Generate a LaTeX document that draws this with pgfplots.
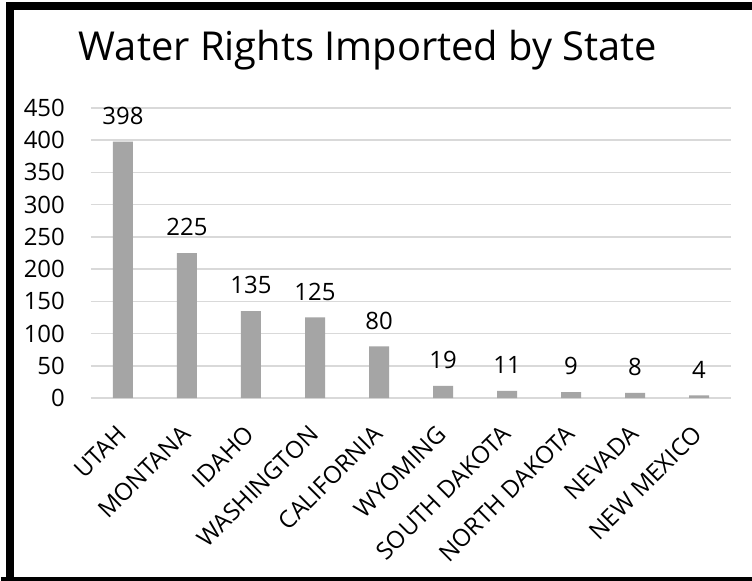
\documentclass[border=0pt]{standalone}
\usepackage{pgfplots}
\pgfplotsset{compat=1.18}
\usepackage{fontspec}
\setmainfont{Open Sans}
\definecolor{barc}{HTML}{A5A5A5}
\definecolor{gridc}{HTML}{D9D9D9}
\begin{document}
\begin{tikzpicture}
\useasboundingbox (-91bp,-183bp) rectangle (661bp,398bp);
\fill[white] (-91bp,-183bp) rectangle (661bp,398bp);
\begin{axis}[
  at={(0bp,0bp)}, anchor=south west,
  scale only axis, width=640bp, height=290bp,
  xmin=-0.5, xmax=9.5, ymin=0, ymax=450,
  ytick={0,50,...,450},
  xtick={0,...,9},
  xticklabels={UTAH,MONTANA,IDAHO,WASHINGTON,CALIFORNIA,WYOMING,SOUTH DAKOTA,NORTH DAKOTA,NEVADA,NEW MEXICO},
  axis line style={draw=none},
  major tick length=0pt,
  ymajorgrids, grid style={gridc, line width=1.5bp},
  tick label style={font=\fontsize{24}{28}\selectfont, text=black},
  /pgf/number format/assume math mode=true,
  yticklabel style={anchor=east, inner sep=0pt, xshift=-26bp},
  xticklabel style={xshift=-1bp, yshift=-32bp, rotate=45, anchor=east, inner sep=0pt},
  ybar, bar width=20bp, bar shift=0pt,
  nodes near coords,
  nodes near coords style={font=\fontsize{24}{28}\selectfont, text=black, anchor=south, inner sep=0pt, yshift=17bp},
  clip=false,
]
\addplot[fill=barc, draw=none] coordinates {(0,398) (1,225) (2,135) (3,125) (4,80) (5,19) (6,11) (7,9) (8,8) (9,4)};
\end{axis}
\node[anchor=base, font=\fontsize{40}{44}\selectfont] at (277bp,337bp) {Water Rights Imported by State};
\draw[line width=8bp] (-81bp,-190bp) -- (-81bp,392bp) -- (700bp,392bp);
\draw[line width=8bp] (-90bp,-183bp) -- (700bp,-183bp);
\end{tikzpicture}
\end{document}
